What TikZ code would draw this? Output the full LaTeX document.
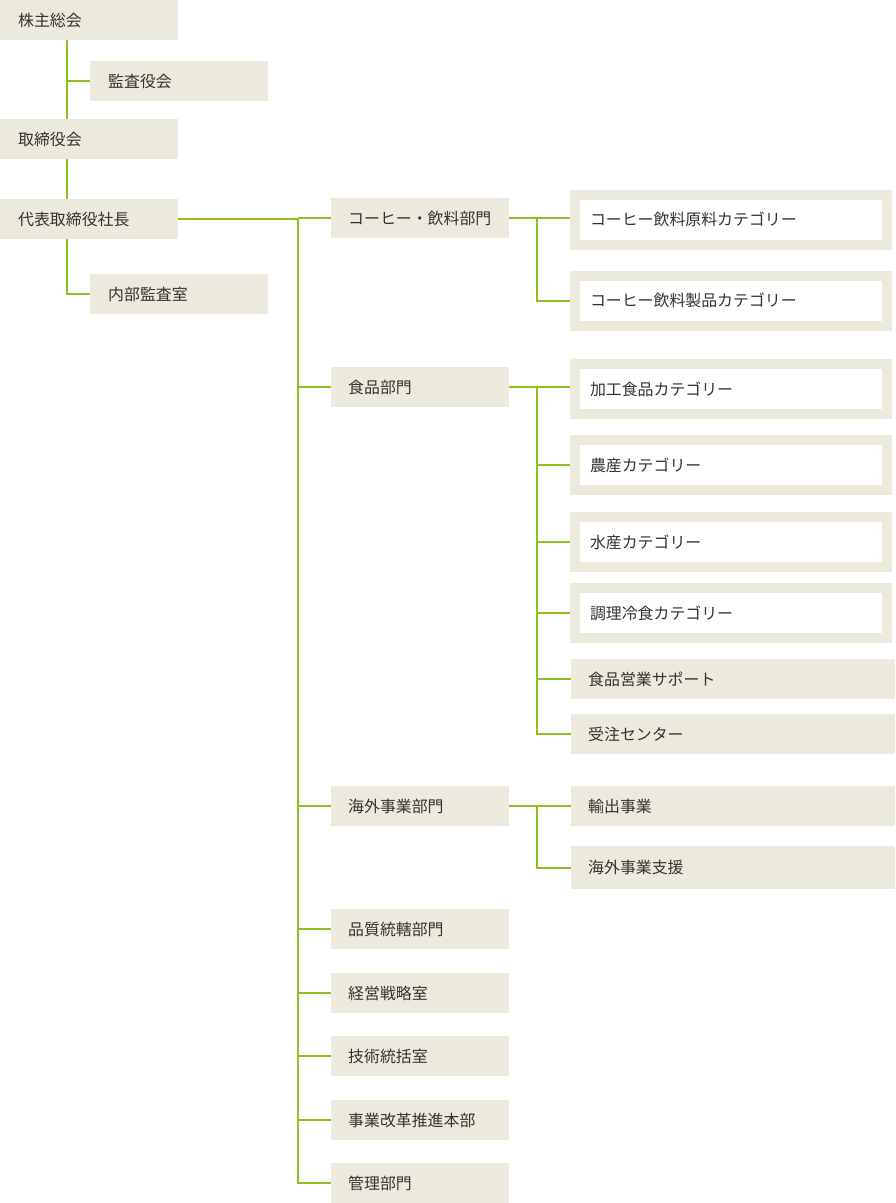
\documentclass[tikz,border=0pt]{standalone}
\usepackage{fontspec}
\setmainfont{Noto Sans CJK JP}
\definecolor{beige}{HTML}{ECEADC}
\definecolor{lgreen}{HTML}{8CC11F}
\definecolor{txt}{HTML}{333333}
\begin{document}
\begin{tikzpicture}[x=1pt,y=-1pt,
  every node/.style={font=\fontsize{15.9}{18}\selectfont, text=txt},
  topbox/.style={fill=beige, anchor=north west, minimum height=40pt, inner xsep=18pt, inner ysep=0pt, text width=142pt, align=left},
  deptbox/.style={fill=beige, anchor=north west, minimum height=40pt, inner xsep=17pt, inner ysep=0pt, text width=144pt, align=left},
  leafbox/.style={fill=beige, anchor=north west, minimum height=40pt, inner xsep=17pt, inner ysep=0pt, text width=290pt, align=left},
  framebox/.style={fill=white, draw=beige, line width=10pt, anchor=center, minimum width=312pt, minimum height=50pt, inner xsep=10pt, inner ysep=0pt, text width=282pt, align=left},
  conn/.style={draw=lgreen, line width=2pt}]
\useasboundingbox (0,0) rectangle (895,1203);
\coordinate (ax) at (67,0);
\coordinate (mb) at (298,0);
\coordinate (sb) at (537,0);
% top level
\node[topbox] (sh) at (0,0) {株主総会};
\node[topbox] (ka) at (90,61) {監査役会};
\node[topbox] (tk) at (0,119) {取締役会};
\node[topbox] (pr) at (0,199) {代表取締役社長};
\node[topbox] (nb) at (90,274) {内部監査室};
% departments
\node[deptbox] (d1) at (331,198) {コーヒー・飲料部門};
\node[deptbox] (d2) at (331,367) {食品部門};
\node[deptbox] (d3) at (331,786) {海外事業部門};
\node[deptbox] (d4) at (331,909) {品質統轄部門};
\node[deptbox] (d5) at (331,973) {経営戦略室};
\node[deptbox] (d6) at (331,1036) {技術統括室};
\node[deptbox] (d7) at (331,1100) {事業改革推進本部};
\node[deptbox] (d8) at (331,1163) {管理部門};
% categories
\node[framebox] (c1) at (731,219.5) {コーヒー飲料原料カテゴリー};
\node[framebox] (c2) at (731,300.5) {コーヒー飲料製品カテゴリー};
\node[framebox] (c3) at (731,389) {加工食品カテゴリー};
\node[framebox] (c4) at (731,465) {農産カテゴリー};
\node[framebox] (c5) at (731,542) {水産カテゴリー};
\node[framebox] (c6) at (731,613) {調理冷食カテゴリー};
\node[leafbox] (c7) at (571,659) {食品営業サポート};
\node[leafbox] (c8) at (571,714) {受注センター};
\node[leafbox] (e1) at (571,786) {輸出事業};
\node[leafbox, minimum height=43pt] (e2) at (571,846) {海外事業支援};
% connectors top
\draw[conn] (ax |- sh.south) -- (ax |- tk.north);
\draw[conn] (ax |- ka.west) -- (ka.west);
\draw[conn] (ax |- tk.south) -- (ax |- pr.north);
\draw[conn] (ax |- pr.south) |- (nb.west);
% main bus
\draw[conn] (pr.east) -- (mb |- pr.east) -- (mb |- d8.west) -- (d8.west);
\foreach \d in {d1,d2,d3,d4,d5,d6,d7}{
  \draw[conn] (mb |- \d.west) -- (\d.west);
}
% coffee
\draw[conn] (d1.east) -- (d1.east -| c1.west);
\draw[conn] (sb |- d1.east) |- (c2.west);
% food
\draw[conn] (d2.east) -- (d2.east -| c3.west);
\draw[conn] (sb |- d2.east) |- (c8.west);
\foreach \c in {c4,c5,c6,c7}{
  \draw[conn] (sb |- \c.west) -- (\c.west);
}
% overseas
\draw[conn] (d3.east) -- (e1.west);
\draw[conn] (sb |- e1.west) |- (e2.west);
\end{tikzpicture}
\end{document}
